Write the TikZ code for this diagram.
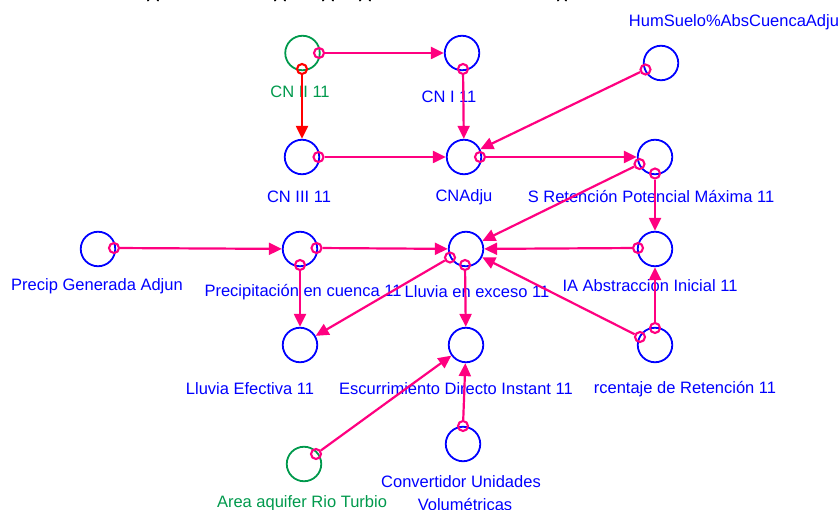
\documentclass[tikz,border=0pt]{standalone}
\usepackage{fontspec}
\setmainfont{Liberation Sans}
\usetikzlibrary{arrows.meta}
\definecolor{bl}{RGB}{0,0,255}
\definecolor{gr}{RGB}{0,153,76}
\definecolor{pk}{RGB}{255,0,128}
\definecolor{rd}{RGB}{255,0,0}
\tikzset{
  x=1pt,y=-1pt,
  stock/.style={circle,draw=#1,line width=1.8pt,minimum size=34.5pt,inner sep=0pt,fill=none},
  stock/.default=bl,
  lab/.style={text=#1,font=\fontsize{16.5}{18}\selectfont,inner sep=0pt,yshift=-1pt},
  lab/.default=bl,
  mk/.style={circle,draw=#1,line width=2.1pt,minimum size=10pt,inner sep=0pt},
  mk/.default=pk,
  con/.style={draw=#1,line width=2.2pt,-{Triangle[length=13pt,width=12pt]}},
  con/.default=pk,
  desc/.style={draw=black,line width=2pt,line cap=round}
}
\begin{document}
\begin{tikzpicture}
\useasboundingbox (0,0) rectangle (840,510);
% title fragments (clipped at the top of the image)
\draw[desc] (148,0.5) arc[start angle=180,end angle=360,radius=5];
\draw[desc] (275,0.5) arc[start angle=180,end angle=360,radius=5];
\draw[desc] (323,0.5) arc[start angle=180,end angle=360,radius=5];
\draw[desc] (360,0.5) arc[start angle=180,end angle=360,radius=5];
\draw[desc] (558,0.5) arc[start angle=180,end angle=360,radius=4];
% labels
\node[lab=gr] (tCNII) at (300,91) {CN II 11};
\node[lab] (tCNI) at (449,96) {CN I 11};
\node[lab] (tHum) at (734,21) {HumSuelo\%AbsCuencaAdju};
\node[lab] (tCNIII) at (299,196) {CN III 11};
\node[lab] (tAdj) at (464,196) {CNAdju};
\node[lab] (tS) at (651,196) {S Retención Potencial Máxima 11};
\node[lab] (tGen) at (97,285) {Precip Generada Adjun};
\node[lab] (tPre) at (303,291) {Precipitación en cuenca 11};
\node[lab] (tExc) at (477,291) {Lluvia en exceso 11};
\node[lab] (tIA) at (650,285) {IA Abstracción Inicial 11};
\node[lab] (tEf) at (250,388) {Lluvia Efectiva 11};
\node[lab] (tEsc) at (456,388) {Escurrimiento Directo Instant 11};
\node[lab] (tPor) at (685,388) {rcentaje de Retención 11};
\node[lab=gr] (tAr) at (302,502) {Area aquifer Rio Turbio};
\node[lab] (tCo) at (461,481) {Convertidor Unidades};
\node[lab] (tVo) at (465,504) {Volumétricas};
% stocks
\node[stock=gr] (CNII) at (302.5,53) {};
\node[stock] (CNI) at (462,53) {};
\node[stock] (Hum) at (661,63) {};
\node[stock] (CNIII) at (302,157) {};
\node[stock] (Adj) at (464,157) {};
\node[stock] (S) at (655,157) {};
\node[stock] (Gen) at (98,249) {};
\node[stock] (Pre) at (300,249) {};
\node[stock] (Exc) at (466,249) {};
\node[stock] (IA) at (655,249) {};
\node[stock] (Ef) at (300,345) {};
\node[stock] (Esc) at (466,345) {};
\node[stock] (Por) at (655,345) {};
\node[stock=gr] (Ar) at (304,464) {};
\node[stock] (Co) at (463,444) {};
% source markers
\node[mk] (a1) at (319,53) {};
\node[mk=rd] (a2) at (302,69) {};
\node[mk] (a3) at (463,69) {};
\node[mk] (a4) at (645.5,69.5) {};
\node[mk] (a5) at (318.5,157) {};
\node[mk] (a6) at (480,157) {};
\node[mk] (a7) at (639.5,164) {};
\node[mk] (a8) at (655,173.5) {};
\node[mk] (a9) at (114,248) {};
\node[mk] (a10) at (316.5,248) {};
\node[mk] (a11) at (300,265) {};
\node[mk] (a12) at (450,257.5) {};
\node[mk] (a13) at (465,265) {};
\node[mk] (a14) at (638,248) {};
\node[mk] (a15) at (640,337) {};
\node[mk] (a16) at (655,328) {};
\node[mk] (a17) at (316,454) {};
\node[mk] (a18) at (463,426) {};
% connectors
\draw[con] (a1) -- (CNI);
\draw[con=rd] (a2) -- (CNIII);
\draw[con] (a3) -- (Adj);
\draw[con] (a4) -- (Adj);
\draw[con] (a5) -- (Adj);
\draw[con] (a6) -- (S);
\draw[con] (a7) -- (Exc);
\draw[con] (a8) -- (IA);
\draw[con] (a9) -- (Pre);
\draw[con] (a10) -- (Exc);
\draw[con] (a11) -- (Ef);
\draw[con] (a12) -- (Ef);
\draw[con] (a13) -- (Esc);
\draw[con] (a14) -- (Exc);
\draw[con] (a15) -- (Exc);
\draw[con] (a16) -- (IA);
\draw[con] (a17) -- (Esc);
\draw[con] (a18) -- (Esc);
\end{tikzpicture}
\end{document}
